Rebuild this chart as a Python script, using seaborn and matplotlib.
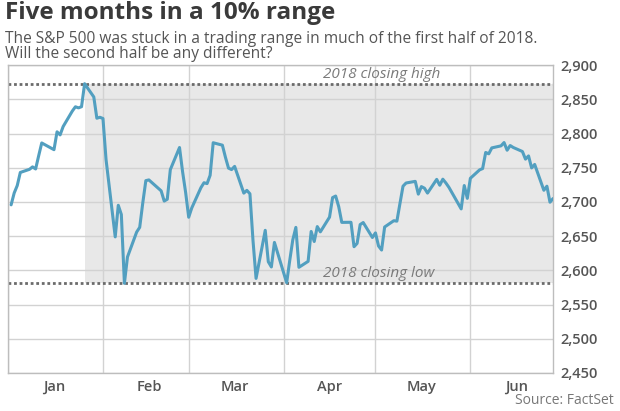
import pandas as pd
import seaborn as sns
import matplotlib.pyplot as plt
import matplotlib.dates as mdates
from matplotlib.ticker import FuncFormatter

# S&P 500 daily closes, first half of 2018 (market holidays removed)
holidays = ['2018-01-15', '2018-02-19', '2018-03-30', '2018-05-28']
trade_days = pd.bdate_range('2018-01-02', '2018-06-28').drop(pd.to_datetime(holidays))

jan_close = [2695.81, 2713.06, 2723.99, 2743.15, 2747.71, 2751.29, 2748.23, 2767.56,
             2786.24, 2776.42, 2802.56, 2798.03, 2810.30, 2832.97, 2839.13, 2837.54,
             2839.25, 2872.87, 2853.53, 2822.43, 2823.81]
feb_close = [2821.98, 2762.13, 2648.94, 2695.14, 2681.66, 2581.00, 2619.55, 2656.00,
             2662.94, 2698.63, 2731.20, 2732.22, 2716.26, 2701.33, 2703.96, 2747.30,
             2779.60, 2744.28, 2713.83]
mar_close = [2677.67, 2691.25, 2720.94, 2728.12, 2726.80, 2738.97, 2786.57, 2783.02,
             2765.31, 2749.48, 2747.33, 2752.01, 2712.92, 2716.94, 2711.93, 2643.69,
             2588.26, 2658.55, 2612.62, 2605.00, 2640.87]
apr_close = [2581.88, 2614.45, 2644.69, 2662.84, 2604.47, 2613.16, 2656.87, 2642.19,
             2663.99, 2656.30, 2677.84, 2706.39, 2708.64, 2693.13, 2670.14, 2670.29,
             2634.56, 2639.40, 2666.94, 2669.91, 2648.05]
may_close = [2654.80, 2635.67, 2629.73, 2663.42, 2672.63, 2671.92, 2697.79, 2723.07,
             2727.72, 2730.13, 2711.45, 2722.46, 2720.13, 2712.97, 2733.01, 2724.44,
             2733.29, 2727.76, 2721.33, 2689.86, 2724.01, 2705.27]
jun_close = [2734.62, 2746.87, 2748.80, 2772.35, 2770.37, 2779.03, 2782.00, 2786.85,
             2775.63, 2782.49, 2779.66, 2773.75, 2762.59, 2767.32, 2749.76, 2754.88,
             2717.07, 2723.06, 2699.63, 2705.00]

close = jan_close + feb_close + mar_close + apr_close + may_close + jun_close
df = pd.DataFrame({'date': trade_days, 'close': close})

high_close = 2872.87
low_close = 2581.00
high_date = '2018-01-26'
y_ticks = list(range(2450, 2901, 50))

sns.set_style('white')
plt.rcParams['font.family'] = ['Open Sans', 'DejaVu Sans']

fig = plt.figure(figsize=(6.2, 4.11), dpi=100)
ax = fig.add_axes([0.013, 0.0925, 0.879, 0.749])

# shaded trading range from the high onward
ax.fill_between(pd.to_datetime([high_date, '2018-06-28']), low_close, high_close,
                color='#e8e8e8', zorder=0.2, lw=0)

sns.lineplot(data=df, x='date', y='close', ax=ax, color='#529fc0', lw=2.2, zorder=3)

ax.axhline(high_close, color='#6b6b6b', ls=(0, (1, 1)), lw=2, zorder=2)
ax.axhline(low_close, color='#6b6b6b', ls=(0, (1, 1)), lw=2, zorder=2)
ax.text(pd.Timestamp('2018-04-14'), high_close + 3, '2018 closing high', style='italic',
        color='#7a7a7a', fontsize=11, va='bottom')
ax.text(pd.Timestamp('2018-04-14'), low_close + 3, '2018 closing low', style='italic',
        color='#7a7a7a', fontsize=11, va='bottom')

ax.set_xlim(pd.Timestamp('2018-01-01'), pd.Timestamp('2018-06-28'))
ax.set_ylim(2450, 2900)
ax.set_yticks(y_ticks)
ax.yaxis.set_major_formatter(FuncFormatter(lambda v, p: f'{int(v):,}'))
ax.yaxis.tick_right()

ax.xaxis.set_major_locator(mdates.MonthLocator(bymonthday=1))
ax.xaxis.set_major_formatter(plt.NullFormatter())
ax.xaxis.set_minor_locator(mdates.MonthLocator(bymonthday=16))
ax.xaxis.set_minor_formatter(mdates.DateFormatter('%b'))

ax.set_axisbelow(True)
ax.grid(True, which='major', color='#d2d2d2', lw=1)
ax.tick_params(axis='both', which='both', length=0, labelcolor='#555555', labelsize=10.5)
ax.tick_params(axis='y', pad=5)
ax.tick_params(axis='x', which='minor', pad=5)
for lbl in ax.get_yticklabels() + ax.get_xticklabels(minor=True):
    lbl.set_fontweight('semibold')
for s in ax.spines.values():
    s.set_color('#bdbdbd')
    s.set_linewidth(1)
ax.set_xlabel('')
ax.set_ylabel('')

fig.text(0.008, 0.998, 'Five months in a 10% range', fontsize=17.5, weight='bold',
         color='#3a3a3a', va='top')
fig.text(0.008, 0.925, 'The S&P 500 was stuck in a trading range in much of the first half of 2018.\n'
         'Will the second half be any different?', fontsize=11.2, color='#555555',
         va='top', linespacing=0.95)
fig.text(0.99, 0.008, 'Source: FactSet', fontsize=10, color='#777777', ha='right', va='bottom')

fig.savefig('out.png', dpi=100)
